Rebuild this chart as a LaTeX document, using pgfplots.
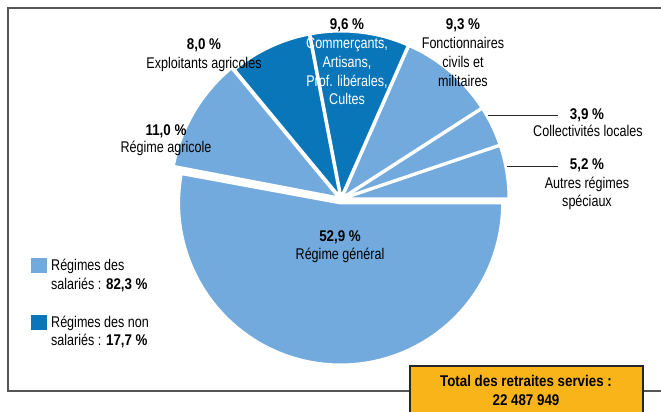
\documentclass[border=0pt]{standalone}
\usepackage{pgfplots}
\usepackage{pgfplotstable}
\pgfplotsset{compat=1.18}
\usepackage{fontspec}
\setmainfont{Liberation Sans}[FakeStretch=0.81, BoldFeatures={FakeStretch=0.86}]

\definecolor{lightb}{RGB}{114,170,221}
\definecolor{darkb}{RGB}{10,118,186}
\definecolor{gold}{RGB}{249,180,26}
\definecolor{frame}{RGB}{85,85,85}

% shares in percent, counter-clockwise from the bottom-left edge of the big slice
\pgfplotstableread{
share colour radius explode
52.9  lightb 162 4
5.2   lightb 167 1
3.9   lightb 167 1
9.3   lightb 167 1
9.6   darkb  167 1
8.0   darkb  167 1
11.0  lightb 169 2
}\pietable

\begin{document}
\begin{tikzpicture}[x=1pt,y=1pt,
    lab/.style={font=\fontsize{15.5}{18}\selectfont, inner sep=0pt, text height=11pt, text depth=0pt},
    blab/.style={lab, font=\fontsize{15.5}{18}\selectfont\bfseries}]
\begin{axis}[
    at={(0,0)}, anchor=south west,
    width=661pt, height=412pt, scale only axis,
    xmin=0, xmax=661, ymin=0, ymax=412,
    y dir=reverse,
    hide axis, clip=false,
]
% frame
\draw[frame, line width=1.4pt] (axis cs:661,8) -- (axis cs:8,8) -- (axis cs:8,391) -- (axis cs:661,391);

% pie slices
\gdef\angA{-190.44}
\pgfplotsforeachungrouped \i in {0,...,6} {
    \pgfplotstablegetelem{\i}{share}\of\pietable \let\sh\pgfplotsretval
    \pgfplotstablegetelem{\i}{colour}\of\pietable \let\col\pgfplotsretval
    \pgfplotstablegetelem{\i}{radius}\of\pietable \let\rad\pgfplotsretval
    \pgfplotstablegetelem{\i}{explode}\of\pietable \let\ex\pgfplotsretval
    \pgfmathsetmacro\angB{\angA+3.6*\sh}
    \pgfmathsetmacro\angM{(\angA+\angB)/2}
    \edef\temp{\noexpand\fill[\col, draw=white, line width=3pt, line join=round]
        (axis cs:341,199) ++(\angM:\ex pt) -- ++(\angA:\rad pt)
        arc[start angle=\angA, end angle=\angB, radius=\rad pt] -- cycle;}
    \temp
    \global\let\angA\angB
}

% connector lines
\draw[black!85, line width=0.8pt] (axis cs:488,115) -- (axis cs:558,115);
\draw[black!85, line width=0.8pt] (axis cs:507,166) -- (axis cs:558,166);

% labels
\node[blab] at (axis cs:347,24) {9,6 \%};
\node[lab, white] at (axis cs:347,43) {Commerçants,};
\node[lab, white] at (axis cs:347,62) {Artisans,};
\node[lab, white] at (axis cs:347,81) {Prof. libérales,};
\node[lab, white] at (axis cs:347,99) {Cultes};

\node[blab] at (axis cs:463,24) {9,3 \%};
\node[lab] at (axis cs:463,43) {Fonctionnaires};
\node[lab] at (axis cs:463,62) {civils et};
\node[lab] at (axis cs:463,81) {militaires};

\node[blab] at (axis cs:204,44) {8,0 \%};
\node[lab] at (axis cs:204,63) {Exploitants agricoles};

\node[blab] at (axis cs:166,130) {11,0 \%};
\node[lab] at (axis cs:166,147) {Régime agricole};

\node[blab] at (axis cs:587,114) {3,9 \%};
\node[lab] at (axis cs:588,131) {Collectivités locales};

\node[blab] at (axis cs:587,164) {5,2 \%};
\node[lab] at (axis cs:587,183) {Autres régimes};
\node[lab] at (axis cs:587,201) {spéciaux};

\node[blab] at (axis cs:340,236) {52,9 \%};
\node[lab] at (axis cs:340,254) {Régime général};

% legend
\fill[lightb] (axis cs:31,258) rectangle (axis cs:47,273);
\node[lab, anchor=west] at (axis cs:51,265) {Régimes des};
\node[lab, anchor=west] at (axis cs:51,284) {salariés : \textbf{82,3 \%}};
\fill[darkb] (axis cs:31,315) rectangle (axis cs:47,330);
\node[lab, anchor=west] at (axis cs:51,322) {Régimes des non};
\node[lab, anchor=west] at (axis cs:51,340) {salariés : \textbf{17,7 \%}};

% total box
\fill[gold] (axis cs:410,366) rectangle (axis cs:643,414);
\draw[black!85, line width=1.8pt] (axis cs:410,414) -- (axis cs:410,366) -- (axis cs:643,366) -- (axis cs:643,414);
\node[blab] at (axis cs:526,381) {Total des retraites servies :};
\node[blab] at (axis cs:526,400) {22 487 949};
\end{axis}
\pgfresetboundingbox
\useasboundingbox (0,0) rectangle (661,412);
\end{tikzpicture}
\end{document}
